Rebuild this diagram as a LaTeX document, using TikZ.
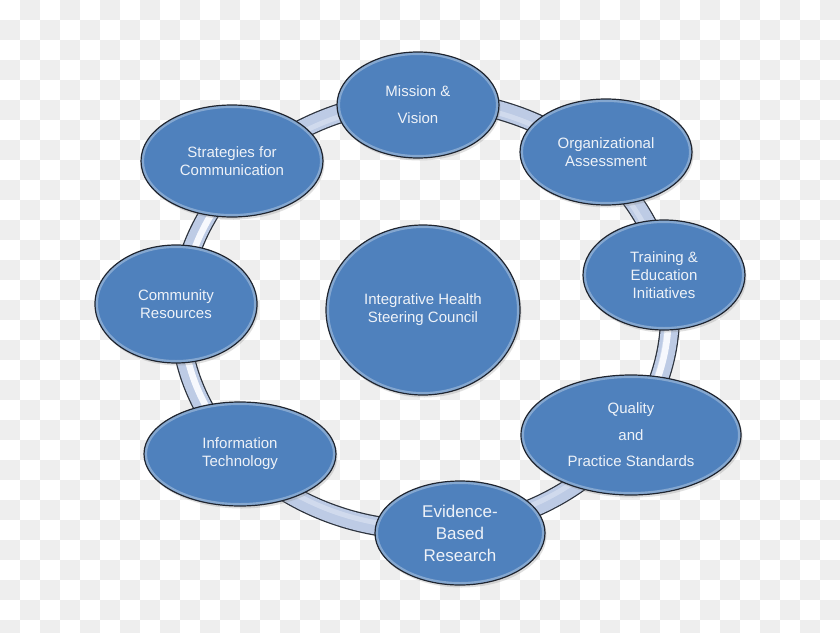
\documentclass[tikz,border=0pt]{standalone}
\usepackage{fontspec}
\setmainfont{Liberation Sans}
\usetikzlibrary{shapes.geometric,shadows,calc}
\definecolor{checkgray}{HTML}{EEEEEE}
\definecolor{bubble}{HTML}{4F81BD}
\definecolor{bubbleline}{HTML}{1F2530}
\definecolor{ringfill}{HTML}{BDCBE5}
\definecolor{ringhi}{HTML}{F6F8FD}
\definecolor{ringline}{HTML}{2C323C}
\definecolor{txt}{HTML}{EEF2F8}
\tikzset{
  bubblenode/.style={ellipse, fill=bubble, draw=bubbleline, line width=1.2pt,
    text=txt, align=center, inner sep=0pt,
    font=\fontsize{15}{18}\selectfont,
    drop shadow={opacity=0.25, shadow xshift=1.5pt, shadow yshift=-2.5pt},
    path picture={\draw[white, opacity=0.3, line width=6pt]
      let \p1=($(path picture bounding box.north east)-(path picture bounding box.center)$) in
      (path picture bounding box.center) ellipse [x radius=\x1, y radius=\y1];}},
  ringout/.style={draw=ringline, line width=20pt},
  ringmid/.style={draw=ringfill, line width=17.5pt},
  ringin/.style={draw=ringhi, line width=6.5pt},
}
\begin{document}
\begin{tikzpicture}[x=1pt,y=-1pt]
\useasboundingbox (0,0) rectangle (840,632);
% checkered background
\begin{scope}
\clip (0,0) rectangle (840,632);
\fill[white] (0,0) rectangle (840,632);
\foreach \x in {20,60,...,820} \foreach \y in {0,40,...,600} \fill[checkgray] (\x,\y) rectangle ++(20,20);
\foreach \x in {0,40,...,800} \foreach \y in {20,60,...,620} \fill[checkgray] (\x,\y) rectangle ++(20,20);
\end{scope}
% ring
\coordinate (ringc) at (425,315);
\draw[ringout] (ringc) ellipse [x radius=245, y radius=215];
\draw[ringmid] (ringc) ellipse [x radius=245, y radius=215];
\begin{scope}
\clip (0,0) rectangle (215,632) (640,260) rectangle (840,632);
\draw[ringin] ([xshift=0.5pt]ringc) ellipse [x radius=243, y radius=213];
\end{scope}
\draw[ringhi, opacity=0.35, line width=5pt] (ringc) ellipse [x radius=242, y radius=212];
% bubbles
\node[bubblenode, minimum width=162, minimum height=106] (mission) at (418,105) {Mission \&\\[9pt]Vision};
\node[bubblenode, minimum width=172, minimum height=106] (org) at (606,152) {Organizational\\Assessment};
\node[bubblenode, minimum width=162, minimum height=110] (train) at (664,275) {Training \&\\Education\\Initiatives};
\node[bubblenode, minimum width=220, minimum height=120] (quality) at (631,435) {Quality\\[9pt]and\\[8pt]Practice Standards};
\node[bubblenode, minimum width=170, minimum height=104, font=\fontsize{17}{22}\selectfont] (evidence) at (460,533) {Evidence-\\Based\\Research};
\node[bubblenode, minimum width=192, minimum height=104] (it) at (240,454) {Information\\Technology};
\node[bubblenode, minimum width=162, minimum height=118] (comm) at (176,304) {Community\\Resources};
\node[bubblenode, minimum width=182, minimum height=112] (strat) at (232,161) {Strategies for\\Communication};
\node[bubblenode, minimum width=194, minimum height=170] (council) at (423,310) {Integrative Health\\Steering Council};
\end{tikzpicture}
\end{document}
